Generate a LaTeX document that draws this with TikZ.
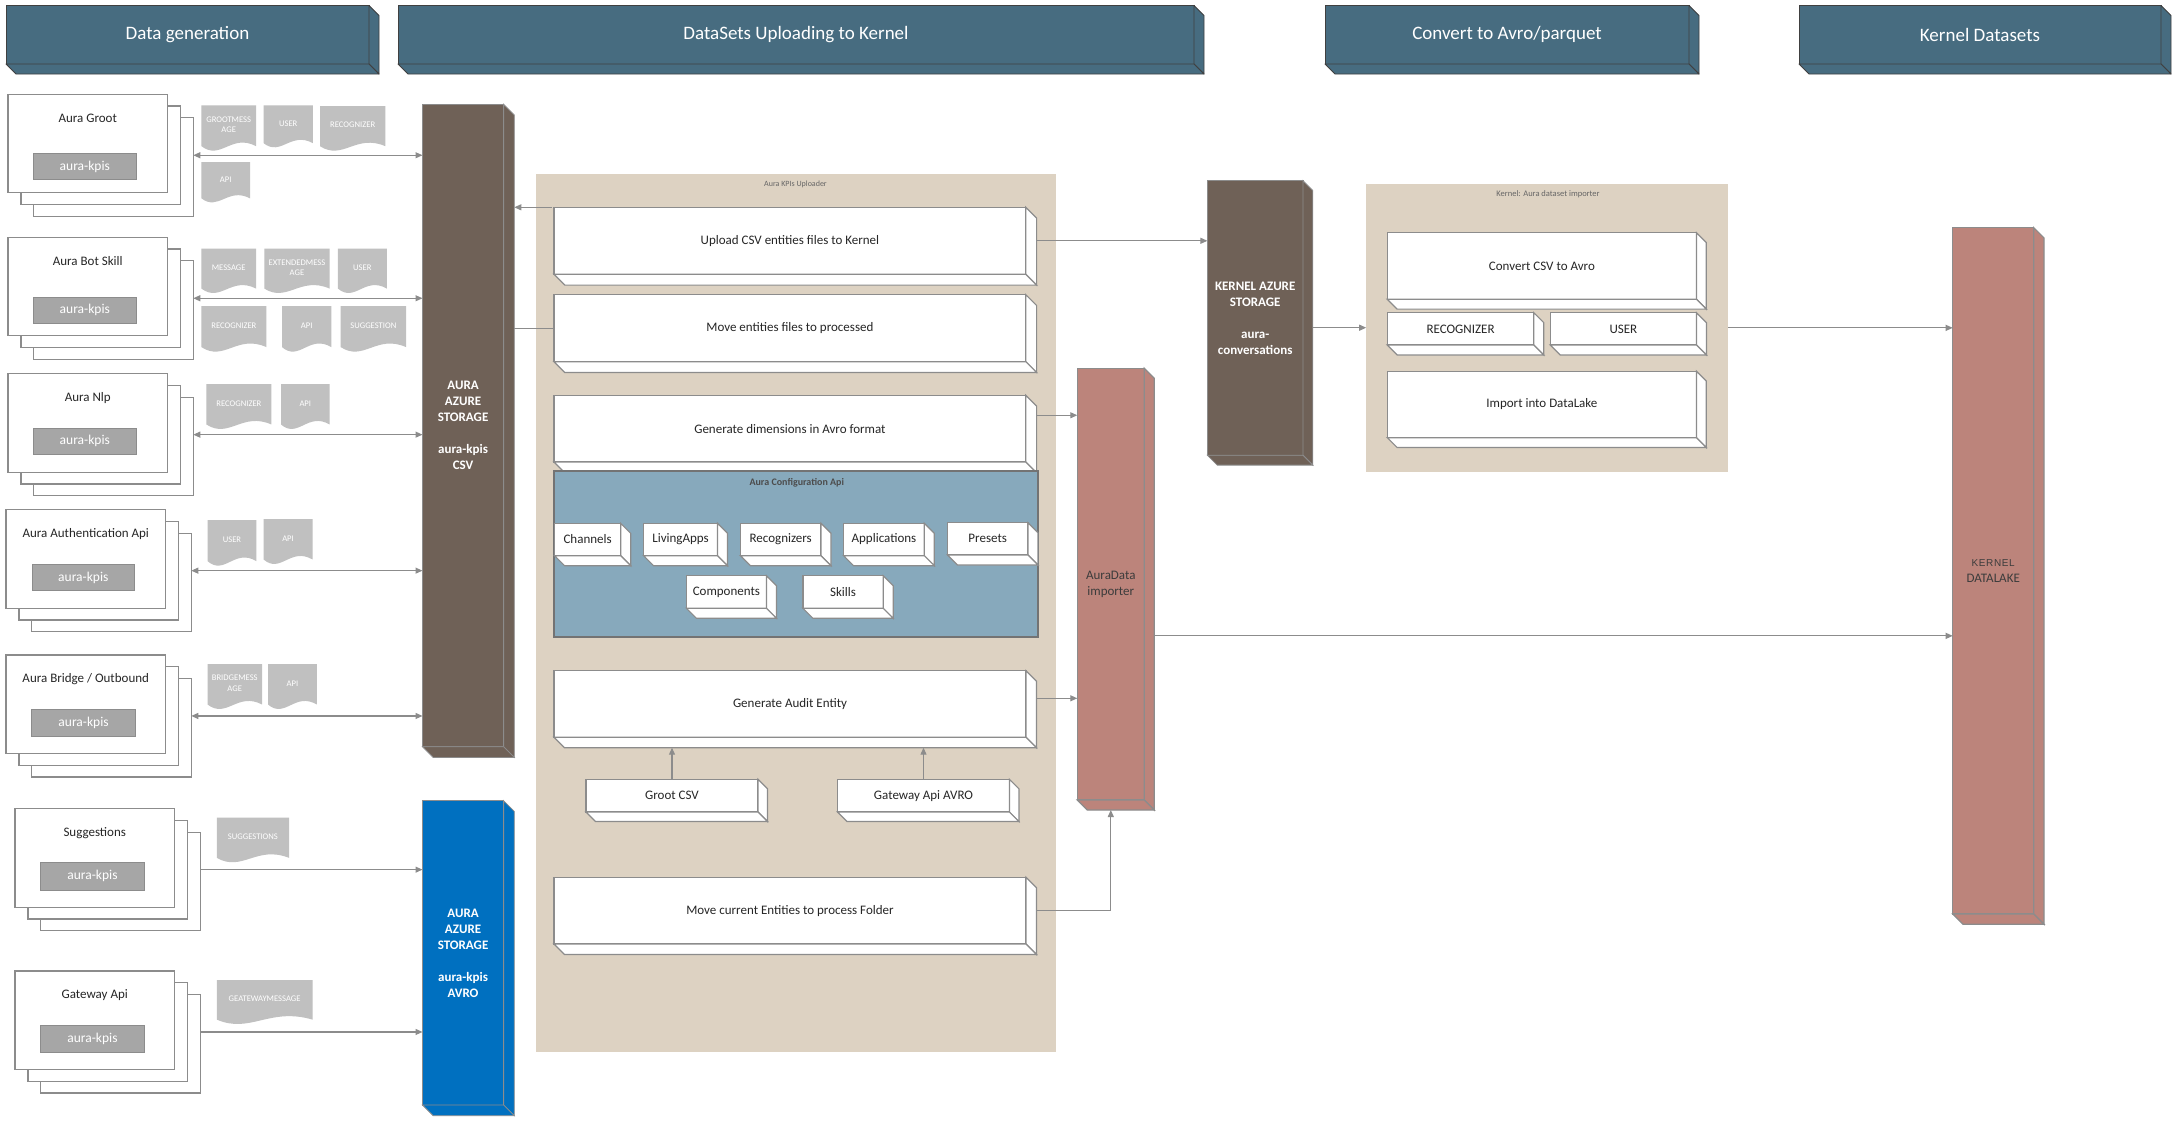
\documentclass[tikz,border=0pt]{standalone}
\usepackage{fontspec}
\setmainfont{Carlito}
\newfontfamily\arialf[LetterSpace=6]{Liberation Sans}
\usetikzlibrary{arrows.meta,calc}

\definecolor{hdr}{HTML}{476C80}
\definecolor{stor}{HTML}{6F6157}
\definecolor{avroc}{HTML}{0070C0}
\definecolor{pinkc}{HTML}{BC847B}
\definecolor{beige}{HTML}{DDD2C2}
\definecolor{cfgc}{HTML}{87A9BC}
\definecolor{kpigray}{HTML}{A6A6A6}
\definecolor{iconc}{HTML}{C0C0C0}
\definecolor{lnc}{HTML}{8C8C8C}
\definecolor{txt}{HTML}{262626}

% box from corner (#3,#4) to (#5,#6)
\newcommand{\mkbox}[7][]{%
  \node[#1, anchor=north west, minimum width={(#5)-(#3)}, minimum height={(#6)-(#4)},
        inner sep=0pt, outer sep=0pt, align=center] (#2) at (#3,#4) {#7};}
% 3D right and bottom faces of node #1, depth #2
\newcommand{\mkdepth}[3]{%
  \filldraw[#3] (#1.north east) -- ++(#2,#2) -- ($(#1.south east)+(#2,#2)$) -- (#1.south east) -- cycle;
  \filldraw[#3] (#1.south west) -- ++(#2,#2) -- ($(#1.south east)+(#2,#2)$) -- (#1.south east) -- cycle;}
% stack of three sheets
\newcommand{\mkstack}[8]{%
  \mkbox[stackbox]{#1c}{#2+25.8}{#3+23.4}{#2+185.3}{#3+121.9}{}
  \mkbox[stackbox]{#1b}{#2+12.9}{#3+11.7}{#2+172.4}{#3+110.2}{}
  \mkbox[stackbox]{#1}{#2}{#3}{#2+159.5}{#3+98.5}{}
  \node[stitle] (#1t) at ({#2+79.75},{#3+24}) {#4};
  \mkbox[kpibox]{#1k}{#5}{#6}{#7}{#8}{aura-kpis}
  \path (#1c.east |- #1b.east) coordinate (#1a);}
% document icon
\newcommand{\mkdoc}[6]{%
  \fill[iconc] (#2,#3) -- (#4,#3) -- (#4,{#3+0.88*(#5-#3)})
    .. controls ({#2+0.55*(#4-#2)},{#3+0.6*(#5-#3)}) and ({#2+0.35*(#4-#2)},{#3+1.2*(#5-#3)})
    .. (#2,{#3+0.88*(#5-#3)}) -- cycle;
  \node[doctext] (#1) at ({(#2+#4)/2},{#3+0.42*(#5-#3)}) {#6};}

\begin{document}
\begin{tikzpicture}[x=1pt,y=-1pt,
  hdrbox/.style={fill=hdr, draw=black!75, line width=0.9pt, text=white, font=\fontsize{19}{22}\selectfont},
  hdrface/.style={fill=hdr, draw=black!75, line width=0.9pt, line join=round},
  stackbox/.style={fill=white, draw=lnc, line width=1.2pt},
  stitle/.style={text=txt, font=\fontsize{13}{15}\selectfont, inner sep=0pt},
  kpibox/.style={fill=kpigray, draw=lnc, line width=1pt, text=white, font=\fontsize{13.5}{16}\selectfont},
  doctext/.style={text=white, font=\fontsize{8.6}{10.5}\selectfont, align=center, inner sep=0pt},
  storbox/.style={fill=stor, draw=lnc, line width=0.8pt, text=white, font=\bfseries\fontsize{13}{16}\selectfont},
  storface/.style={fill=stor, draw=lnc, line width=0.8pt},
  avrobox/.style={fill=avroc, draw=lnc, line width=0.8pt, text=white, font=\bfseries\fontsize{13}{16}\selectfont},
  avroface/.style={fill=avroc, draw=lnc, line width=0.8pt},
  pinkbox/.style={fill=pinkc, draw=lnc, line width=1.2pt, text=txt!90, font=\fontsize{13}{16}\selectfont},
  pinkface/.style={fill=pinkc, draw=lnc, line width=1.2pt},
  beigebox/.style={fill=beige},
  smalllabel/.style={text=black!60, font=\fontsize{8}{10}\selectfont, inner sep=0pt},
  procbox/.style={fill=white, draw=lnc, line width=1.2pt, text=txt, font=\fontsize{13}{16}\selectfont},
  procface/.style={fill=white, draw=lnc, line width=1.2pt},
  cfgbox/.style={fill=cfgc, draw=black!55, line width=1.8pt},
  arr/.style={draw=lnc, line width=1.1pt, -{Triangle[length=7pt,width=6pt]}},
  dbl/.style={draw=lnc, line width=1.1pt, {Triangle[length=7pt,width=6pt]}-{Triangle[length=7pt,width=6pt]}},
  ln/.style={draw=lnc, line width=1.1pt}
]
\useasboundingbox[fill=white] (0,0) rectangle (2177,1122);

% ---------- headers ----------
\mkbox[hdrbox]{h1}{6}{5.5}{369}{64}{Data generation}
\mkdepth{h1}{10}{hdrface}
\mkbox[hdrbox]{h2}{398}{5.5}{1194}{64}{DataSets Uploading to Kernel}
\mkdepth{h2}{10}{hdrface}
\mkbox[hdrbox]{h3}{1325}{5.5}{1689}{64}{Convert to Avro/parquet}
\mkdepth{h3}{10}{hdrface}
\mkbox[hdrbox]{h4}{1799}{5.5}{2161}{64}{Kernel Datasets}
\mkdepth{h4}{10}{hdrface}

% ---------- stacks ----------
\mkstack{sg}{8}{94.3}{Aura Groot}{33.2}{153.7}{136.4}{179.7}
\mkstack{sb}{8}{237.3}{Aura Bot Skill}{33.2}{297}{136.4}{323}
\mkstack{sn}{8}{373.7}{Aura Nlp}{33.2}{428}{136.4}{454.7}
\mkstack{sa}{6}{509.7}{Aura Authentication Api}{32}{564.3}{134.6}{590.7}
\mkstack{sr}{6}{655}{Aura Bridge / Outbound}{31.4}{709}{135.7}{736.7}
\mkstack{ss}{15}{808.7}{Suggestions}{40.4}{862.7}{144.6}{890}
\mkstack{sw}{15}{971}{Gateway Api}{40.4}{1025}{144.6}{1052.3}

% ---------- document icons ----------
\mkdoc{d1}{201.4}{105.3}{256}{151.7}{GROOTMESS\\AGE}
\mkdoc{d2}{263.6}{105.3}{312.9}{148.3}{USER}
\mkdoc{d3}{320}{106}{385.4}{151.7}{RECOGNIZER}
\mkdoc{d4}{201.4}{162}{250}{203.3}{API}
\mkdoc{d5}{201.4}{248.7}{256}{294}{MESSAGE}
\mkdoc{d6}{264.3}{248.7}{329.6}{294}{EXTENDEDMESS\\AGE}
\mkdoc{d7}{337.9}{248.7}{386.8}{294}{USER}
\mkdoc{d8}{201.4}{306}{266.4}{352.7}{RECOGNIZER}
\mkdoc{d9}{282}{306}{331.4}{352.7}{API}
\mkdoc{d10}{340.7}{306}{406}{352.7}{SUGGESTION}
\mkdoc{d11}{206.4}{384}{271.4}{430}{RECOGNIZER}
\mkdoc{d12}{281}{384}{329.6}{430}{API}
\mkdoc{d13}{207.5}{520}{256.4}{566.7}{USER}
\mkdoc{d14}{263.6}{519}{312.5}{565}{API}
\mkdoc{d15}{207.5}{664}{262}{710}{BRIDGEMESS\\AGE}
\mkdoc{d16}{268}{664}{316.8}{710}{API}
\mkdoc{d17}{216.8}{817.7}{289}{863.3}{SUGGESTIONS}
\mkdoc{d18}{216.8}{980}{312.5}{1025}{GEATEWAYMESSAGE}

% ---------- storages ----------
\mkbox[storbox]{csv}{422.5}{104.3}{503.6}{746.7}{AURA\\AZURE\\STORAGE\\[16pt]aura-kpis\\CSV}
\mkdepth{csv}{10.7}{storface}
\coordinate (csvr) at ($(csv.east)+(10.7,0)$);
\mkbox[avrobox]{avro}{422.5}{800.7}{503.6}{1105}{AURA\\AZURE\\STORAGE\\[16pt]aura-kpis\\AVRO}
\mkdepth{avro}{10.7}{avroface}

% ---------- Aura KPIs uploader ----------
\mkbox[beigebox]{kpiup}{535.7}{174}{1056}{1052.3}{}
\node[smalllabel] (kpiupl) at (795.5,184) {Aura KPIs Uploader};

\mkbox[procbox]{up}{554}{207.3}{1025.8}{274.3}{Upload CSV entities files to Kernel}
\mkdepth{up}{10.8}{procface}
\mkbox[procbox]{mv}{554}{294.7}{1025.8}{361.7}{Move entities files to processed}
\mkdepth{mv}{10.8}{procface}
\mkbox[procbox]{gd}{554}{395.3}{1025.8}{462}{Generate dimensions in Avro format}
\mkdepth{gd}{10.8}{procface}

\mkbox[cfgbox]{cfg}{553.6}{471.3}{1037.9}{637.3}{}
\node[text=black!70, font=\bfseries\fontsize{10}{12}\selectfont, inner sep=0pt] (cfgl) at (796.8,482.7) {Aura Configuration Api};
\mkbox[procbox]{ch}{554.6}{523.3}{620.7}{555.7}{Channels}
\mkdepth{ch}{10}{procface}
\mkbox[procbox]{la}{643.6}{523.3}{717.5}{555.7}{LivingApps}
\mkdepth{la}{10}{procface}
\mkbox[procbox]{rc}{740.4}{523.3}{821}{555.7}{Recognizers}
\mkdepth{rc}{10}{procface}
\mkbox[procbox]{ap}{843.6}{523.3}{924.3}{555.7}{Applications}
\mkdepth{ap}{10}{procface}
\mkbox[procbox]{pr}{947.5}{522.7}{1027.9}{555}{Presets}
\mkdepth{pr}{10}{procface}
\mkbox[procbox]{co}{686.4}{575.7}{766.4}{608.3}{Components}
\mkdepth{co}{10}{procface}
\mkbox[procbox]{sk}{802.9}{575.7}{883.2}{608.3}{Skills}
\mkdepth{sk}{10}{procface}

\mkbox[procbox]{audit}{554}{670.7}{1026}{737.3}{Generate Audit Entity}
\mkdepth{audit}{10.4}{procface}
\coordinate (auditb) at ($(audit.south)+(0,10.4)$);
\mkbox[procbox]{gcsv}{586}{779.3}{758}{812}{Groot CSV}
\mkdepth{gcsv}{9.5}{procface}
\mkbox[procbox]{gwa}{837.6}{779.3}{1009.4}{812}{Gateway Api AVRO}
\mkdepth{gwa}{9.5}{procface}
\mkbox[procbox]{mvc}{554}{877.3}{1026}{944}{Move current Entities to process Folder}
\mkdepth{mvc}{10.4}{procface}

% ---------- AuraData importer ----------
\mkbox[pinkbox]{adi}{1077.3}{368.3}{1144.3}{800}{AuraData\\importer}
\mkdepth{adi}{10}{pinkface}

% ---------- Kernel storage ----------
\mkbox[storbox]{kstor}{1207.4}{180.7}{1303}{455.3}{KERNEL AZURE\\STORAGE\\[16pt]aura-\\conversations}
\mkdepth{kstor}{9.8}{storface}

% ---------- Kernel importer ----------
\mkbox[beigebox]{kimp}{1366.2}{184}{1728.3}{471.7}{}
\node[smalllabel, font=\fontsize{8.5}{10}\selectfont] (kimpl) at (1548,194) {Kernel: Aura dataset importer};
\mkbox[procbox]{cv}{1387.3}{232.7}{1696.5}{299.3}{Convert CSV to Avro}
\mkdepth{cv}{9.8}{procface}
\mkbox[procbox]{kr}{1387.3}{312.7}{1533.8}{345}{RECOGNIZER}
\mkdepth{kr}{10}{procface}
\mkbox[procbox]{ku}{1550.3}{312.7}{1696.5}{345}{USER}
\mkdepth{ku}{10}{procface}
\mkbox[procbox]{idl}{1387.3}{371.3}{1696.5}{437.7}{Import into DataLake}
\mkdepth{idl}{9.8}{procface}

% ---------- Kernel datalake ----------
\mkbox[pinkbox]{dl}{1952.7}{227.6}{2033.7}{914}{\arialf\fontsize{10}{16}\selectfont KERNEL\\DATALAKE}
\mkdepth{dl}{10.3}{pinkface}

% ---------- connectors ----------
\draw[dbl] (sga) -- (sga -| csv.west);
\draw[dbl] (sba) -- (sba -| csv.west);
\draw[dbl] (sna) -- (sna -| csv.west);
\draw[dbl] (saa) -- (saa -| csv.west);
\draw[dbl] (sra) -- (sra -| csv.west);
\draw[arr] (ssa) -- (ssa -| avro.west);
\draw[arr] (swa) -- (swa -| avro.west);

\coordinate (upl) at ($(up.north west)+(-2,0)$);
\draw[arr] (upl) -- (upl -| csvr);
\draw[ln] (mv.west) -- (mv.west -| csvr);

\coordinate (upo) at ($(up.east)+(10.8,0)$);
\draw[arr] (upo) -- (upo -| kstor.west);
\coordinate (gdo) at ($(gd.east)+(10.8,-13.4)$);
\draw[arr] (gdo) -- (gdo -| adi.west);
\coordinate (audo) at ($(audit.east)+(10.4,-5.7)$);
\draw[arr] (audo) -- (audo -| adi.west);
\draw[arr] (gcsv.north) -- (gcsv.north |- auditb);
\draw[arr] (gwa.north) -- (gwa.north |- auditb);
\coordinate (mvco) at ($(mvc.east)+(10.4,0)$);
\coordinate (adib) at ($(adi.south)+(0,10)$);
\draw[arr] (mvco) -| (adib);
\coordinate (adio) at ($(adi.east)+(10,51.7)$);
\draw[arr] (adio) -- (adio -| dl.west);
\coordinate (kso) at ($(kstor.east)+(9.8,9.7)$);
\draw[arr] (kso) -- (kso -| kimp.west);
\draw[arr] (kimp.east) -- (kimp.east -| dl.west);
\end{tikzpicture}
\end{document}
